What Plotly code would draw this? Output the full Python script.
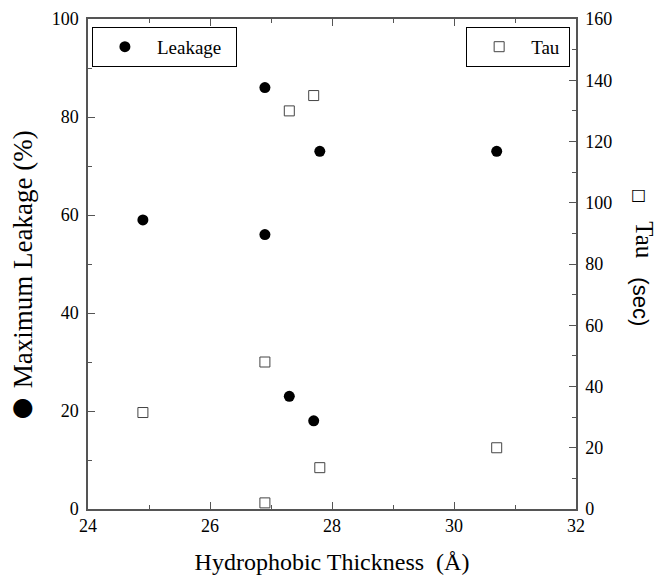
import plotly.graph_objects as go

# Data
thickness_leak = [24.9, 26.9, 26.9, 27.3, 27.7, 27.8, 30.7]
max_leakage = [59, 86, 56, 23, 18, 73, 73]

thickness_tau = [24.9, 26.9, 26.9, 27.3, 27.7, 27.8, 30.7]
tau_sec = [31.5, 48, 2, 130, 135, 13.5, 20]

x_range = [24, 32]
leak_range = [0, 100]
tau_range = [0, 160]

SERIF = "Liberation Serif"
SANS = "Liberation Sans"
AXIS_COLOR = "#555555"
NBSP = "\u00a0"

fig = go.Figure()
fig.add_trace(go.Scatter(
    x=thickness_leak, y=max_leakage, mode="markers", name="Leakage" + NBSP * 2,
    marker=dict(symbol="circle", size=11, color="black"),
    legend="legend", yaxis="y", showlegend=True,
))
fig.add_trace(go.Scatter(
    x=thickness_tau, y=tau_sec, mode="markers", name="Tau" + NBSP,
    marker=dict(symbol="square-open", size=10, color="#444444", line=dict(width=1)),
    legend="legend2", yaxis="y2", showlegend=True,
))

def axis_common():
    return dict(
        showline=True, linecolor=AXIS_COLOR, linewidth=1.5,
        ticks="inside", ticklen=7, tickwidth=1.2, tickcolor=AXIS_COLOR,
        showgrid=False, zeroline=False, automargin=False,
        tickfont=dict(family=SERIF, size=18, color="black"),
    )

# page body has an 8px default margin: shift the figure accordingly
fig.update_layout(
    width=654, height=571,
    margin=dict(l=80, r=86, t=11, b=70),
    showlegend=True,
    paper_bgcolor="white", plot_bgcolor="white",
    font=dict(family=SERIF, color="black", size=18),
    xaxis=dict(range=x_range, dtick=2, tick0=24, mirror="ticks",
               minor=dict(dtick=1, ticks="inside", ticklen=4, tickcolor=AXIS_COLOR),
               title=dict(text="Hydrophobic Thickness  (Å)", font=dict(family=SERIF, size=24), standoff=18),
               **axis_common()),
    yaxis=dict(range=leak_range, dtick=20, tick0=0,
               minor=dict(dtick=10, ticks="inside", ticklen=4, tickcolor=AXIS_COLOR),
               ticklabelstandoff=4,
               **axis_common()),
    yaxis2=dict(range=tau_range, dtick=20, tick0=0, overlaying="y", side="right",
                minor=dict(dtick=10, ticks="inside", ticklen=4, tickcolor=AXIS_COLOR),
                ticklabelstandoff=4,
                **axis_common()),
    legend=dict(x=0.008, y=0.984, xanchor="left", yanchor="top",
                bordercolor="black", borderwidth=1, bgcolor="white",
                font=dict(family=SERIF, size=19), itemwidth=54),
    legend2=dict(x=0.988, y=0.984, xanchor="right", yanchor="top",
                 bordercolor="black", borderwidth=1, bgcolor="white",
                 font=dict(family=SERIF, size=19), itemwidth=54),
    annotations=[
        dict(text="●", xref="paper", yref="paper",
             x=-0.133, y=0.21, xanchor="center", yanchor="middle", showarrow=False,
             font=dict(family="DejaVu Sans", size=25, color="black")),
        dict(text="Maximum Leakage (%)", textangle=-90, xref="paper", yref="paper",
             x=-0.133, y=0.51, xanchor="center", yanchor="middle", showarrow=False,
             font=dict(family=SERIF, size=27, color="black")),
        dict(text="□", xref="paper", yref="paper",
             x=1.129, y=0.641, xanchor="center", yanchor="middle", showarrow=False,
             font=dict(family="DejaVu Sans", size=16, color="black")),
        dict(text="Tau", textangle=90, xref="paper", yref="paper",
             x=1.139, y=0.549, xanchor="center", yanchor="middle", showarrow=False,
             font=dict(family=SERIF, size=25, color="black")),
        dict(text="(sec)", textangle=90, xref="paper", yref="paper",
             x=1.133, y=0.422, xanchor="center", yanchor="middle", showarrow=False,
             font=dict(family=SANS, size=22, color="black")),
    ],
)

fig.write_html("out.html")
